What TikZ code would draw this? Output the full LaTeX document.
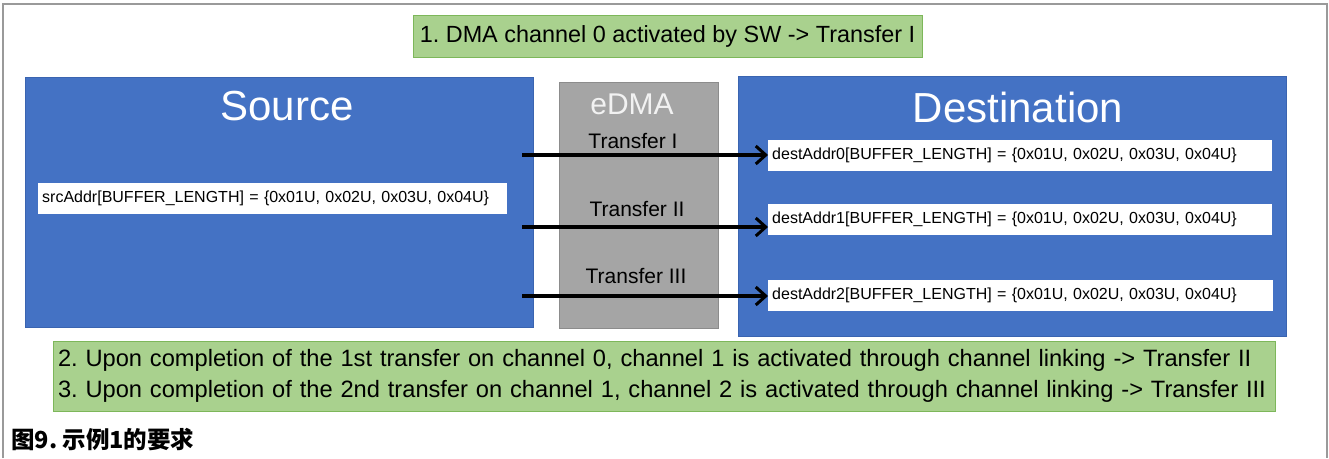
\documentclass[tikz,border=0pt]{standalone}
\usepackage{fontspec}
\setmainfont{Liberation Sans}
\newfontfamily\cjk{Noto Sans CJK SC}
\usetikzlibrary{arrows.meta}
\definecolor{panelblue}{HTML}{4472C4}
\definecolor{panelline}{HTML}{3A64B0}
\definecolor{dmagray}{HTML}{A5A5A5}
\definecolor{dmaline}{HTML}{8C8C8C}
\definecolor{notegreen}{HTML}{A9D18E}
\definecolor{noteline}{HTML}{7DB75A}
\definecolor{framegray}{HTML}{9A9A9A}
\frenchspacing

\begin{document}
\begin{tikzpicture}[x=1pt,y=-1pt]
            \tikzset{panel/.style={draw=panelline, fill=panelblue, anchor=north west, inner sep=0pt},
                     dmabox/.style={draw=dmaline, fill=dmagray, anchor=north west, inner sep=0pt},
                     heading/.style={text=white, font=\fontsize{42}{48}\selectfont},
                     arraybox/.style={fill=white, anchor=west, minimum height=31pt, text width=#1, inner xsep=4pt, align=left, font=\fontsize{16}{18}\selectfont},
                     notebox/.style={draw=noteline, fill=notegreen, inner sep=0pt, font=\fontsize{23.4}{31}\selectfont},
                     xferlabel/.style={font=\fontsize{21}{24}\selectfont},
                     xfer/.style={line width=3.4pt, -{Straight Barb[length=10pt, width=18pt, line width=3pt]}}}
            \useasboundingbox (0,0) rectangle (1329,458);
            \draw[framegray, line width=1.2pt] (3,458) -- (3,4) -- (1327,4) -- (1327,458);
            % boxes
            \node[panel, minimum width=508pt, minimum height=250pt] (source) at (25,77) {};
            \node[dmabox, minimum width=159pt, minimum height=246pt] (edma) at (559,82) {};
            \node[panel, minimum width=548pt, minimum height=260pt] (dest) at (738,76) {};
            \node[heading] (sourcetitle) at (287,106) {Source};
            \node[heading] (desttitle) at (1018,107) {Destination};
            \node[text=white!90!gray, font=\fontsize{30}{34}\selectfont] (edmatitle) at (632,104) {eDMA};
            \node[arraybox=461pt] (src) at (38,198.5) {srcAddr[BUFFER\_LENGTH] = \{0x01U, 0x02U, 0x03U, 0x04U\}};
            \node[arraybox=496pt] (dest0) at (768,155) {destAddr0[BUFFER\_LENGTH] = \{0x01U, 0x02U, 0x03U, 0x04U\}};
            \node[arraybox=496pt] (dest1) at (768,219) {destAddr1[BUFFER\_LENGTH] = \{0x01U, 0x02U, 0x03U, 0x04U\}};
            \node[arraybox=497pt] (dest2) at (768,295) {destAddr2[BUFFER\_LENGTH] = \{0x01U, 0x02U, 0x03U, 0x04U\}};
            % transfers
            \node[xferlabel] (xfer1) at (633,141) {Transfer I};
            \node[xferlabel] (xfer2) at (637,209) {Transfer II};
            \node[xferlabel] (xfer3) at (636,276) {Transfer III};
            \coordinate (from1) at (522,155);
            \coordinate (from2) at (522,227);
            \coordinate (from3) at (522,296);
            \draw[xfer] (from1) -- (from1 -| dest0.west);
            \draw[xfer] (from2) -- (from2 -| dest1.west);
            \draw[xfer] (from3) -- (from3 -| dest2.west);
            % notes
            \node[notebox, minimum width=509pt, minimum height=42pt] (step1) at (667.5,36) {1. DMA channel 0 activated by SW -> Transfer I};
            \node[notebox, minimum height=70pt, text width=1212pt, inner xsep=5pt, align=left, font=\fontsize{23.65}{31}\selectfont] (steps23) at (664,376)
                {2. Upon completion of the 1st transfer on channel 0, channel 1 is activated through channel linking -> Transfer II\\
                 3. Upon completion of the 2nd transfer on channel 1, channel 2 is activated through channel linking -> Transfer III};
            \node[anchor=west, inner sep=0pt, font=\cjk\bfseries\fontsize{23.5}{25}\selectfont] (caption) at (11,440) {图9. 示例1的要求};
\end{tikzpicture}
\end{document}
